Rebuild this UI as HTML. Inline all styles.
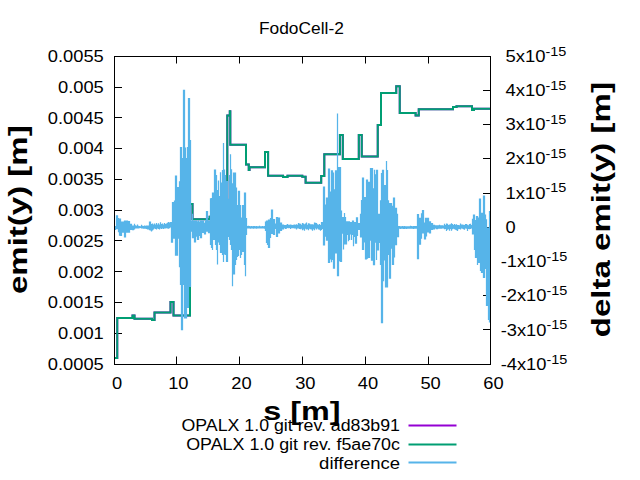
<!DOCTYPE html>
<html><head><meta charset="utf-8"><style>html,body{margin:0;padding:0;background:#fff;overflow:hidden}svg{display:block}text{font-family:"Liberation Sans",sans-serif;fill:#000}</style></head>
<body><svg width="640" height="480" viewBox="0 0 640 480">
<rect x="0" y="0" width="640" height="480" fill="#fff"/>
<text x="301.4" y="34" text-anchor="middle" font-size="16" textLength="84.8" lengthAdjust="spacingAndGlyphs">FodoCell-2</text>
<text x="47.82" y="62.00" font-size="16" textLength="55.98" lengthAdjust="spacingAndGlyphs">0.0055</text>
<text x="58.00" y="92.80" font-size="16" textLength="45.8" lengthAdjust="spacingAndGlyphs">0.005</text>
<line x1="114" y1="87.5" x2="122" y2="87.5" stroke="#000" stroke-width="1"/>
<text x="47.82" y="123.60" font-size="16" textLength="55.98" lengthAdjust="spacingAndGlyphs">0.0045</text>
<line x1="114" y1="117.5" x2="122" y2="117.5" stroke="#000" stroke-width="1"/>
<text x="58.00" y="154.40" font-size="16" textLength="45.8" lengthAdjust="spacingAndGlyphs">0.004</text>
<line x1="114" y1="148.5" x2="122" y2="148.5" stroke="#000" stroke-width="1"/>
<text x="47.82" y="185.20" font-size="16" textLength="55.98" lengthAdjust="spacingAndGlyphs">0.0035</text>
<line x1="114" y1="179.5" x2="122" y2="179.5" stroke="#000" stroke-width="1"/>
<text x="58.00" y="216.00" font-size="16" textLength="45.8" lengthAdjust="spacingAndGlyphs">0.003</text>
<line x1="114" y1="210.5" x2="122" y2="210.5" stroke="#000" stroke-width="1"/>
<text x="47.82" y="246.80" font-size="16" textLength="55.98" lengthAdjust="spacingAndGlyphs">0.0025</text>
<line x1="114" y1="240.5" x2="122" y2="240.5" stroke="#000" stroke-width="1"/>
<text x="58.00" y="277.60" font-size="16" textLength="45.8" lengthAdjust="spacingAndGlyphs">0.002</text>
<line x1="114" y1="271.5" x2="122" y2="271.5" stroke="#000" stroke-width="1"/>
<text x="47.82" y="308.40" font-size="16" textLength="55.98" lengthAdjust="spacingAndGlyphs">0.0015</text>
<line x1="114" y1="302.5" x2="122" y2="302.5" stroke="#000" stroke-width="1"/>
<text x="58.00" y="339.20" font-size="16" textLength="45.8" lengthAdjust="spacingAndGlyphs">0.001</text>
<line x1="114" y1="333.5" x2="122" y2="333.5" stroke="#000" stroke-width="1"/>
<text x="47.82" y="370.00" font-size="16" textLength="55.98" lengthAdjust="spacingAndGlyphs">0.0005</text>
<text x="505.5" y="61.80" font-size="16" textLength="40.01" lengthAdjust="spacingAndGlyphs">5x10</text>
<text x="545.51" y="55.50" font-size="12.8" textLength="20.9" lengthAdjust="spacingAndGlyphs">-15</text>
<text x="505.5" y="96.02" font-size="16" textLength="40.01" lengthAdjust="spacingAndGlyphs">4x10</text>
<text x="545.51" y="89.72" font-size="12.8" textLength="20.9" lengthAdjust="spacingAndGlyphs">-15</text>
<line x1="483" y1="90.5" x2="490" y2="90.5" stroke="#000" stroke-width="1"/>
<text x="505.5" y="130.24" font-size="16" textLength="40.01" lengthAdjust="spacingAndGlyphs">3x10</text>
<text x="545.51" y="123.94" font-size="12.8" textLength="20.9" lengthAdjust="spacingAndGlyphs">-15</text>
<line x1="483" y1="124.5" x2="490" y2="124.5" stroke="#000" stroke-width="1"/>
<text x="505.5" y="164.47" font-size="16" textLength="40.01" lengthAdjust="spacingAndGlyphs">2x10</text>
<text x="545.51" y="158.17" font-size="12.8" textLength="20.9" lengthAdjust="spacingAndGlyphs">-15</text>
<line x1="483" y1="158.5" x2="490" y2="158.5" stroke="#000" stroke-width="1"/>
<text x="505.5" y="198.69" font-size="16" textLength="40.01" lengthAdjust="spacingAndGlyphs">1x10</text>
<text x="545.51" y="192.39" font-size="12.8" textLength="20.9" lengthAdjust="spacingAndGlyphs">-15</text>
<line x1="483" y1="193.5" x2="490" y2="193.5" stroke="#000" stroke-width="1"/>
<text x="505.55" y="232.91" font-size="16" textLength="10.18" lengthAdjust="spacingAndGlyphs">0</text>
<line x1="483" y1="227.5" x2="490" y2="227.5" stroke="#000" stroke-width="1"/>
<text x="500.7" y="267.13" font-size="16" textLength="45.78" lengthAdjust="spacingAndGlyphs">-1x10</text>
<text x="546.48" y="260.83" font-size="12.8" textLength="20.9" lengthAdjust="spacingAndGlyphs">-15</text>
<line x1="483" y1="261.5" x2="490" y2="261.5" stroke="#000" stroke-width="1"/>
<text x="500.7" y="301.36" font-size="16" textLength="45.78" lengthAdjust="spacingAndGlyphs">-2x10</text>
<text x="546.48" y="295.06" font-size="12.8" textLength="20.9" lengthAdjust="spacingAndGlyphs">-15</text>
<line x1="483" y1="295.5" x2="490" y2="295.5" stroke="#000" stroke-width="1"/>
<text x="500.7" y="335.58" font-size="16" textLength="45.78" lengthAdjust="spacingAndGlyphs">-3x10</text>
<text x="546.48" y="329.28" font-size="12.8" textLength="20.9" lengthAdjust="spacingAndGlyphs">-15</text>
<line x1="483" y1="329.5" x2="490" y2="329.5" stroke="#000" stroke-width="1"/>
<text x="500.7" y="369.80" font-size="16" textLength="45.78" lengthAdjust="spacingAndGlyphs">-4x10</text>
<text x="546.48" y="363.50" font-size="12.8" textLength="20.9" lengthAdjust="spacingAndGlyphs">-15</text>
<text x="117.20" y="389" text-anchor="middle" font-size="16" textLength="10.18" lengthAdjust="spacingAndGlyphs">0</text>
<text x="178.37" y="389" text-anchor="middle" font-size="16" textLength="20.36" lengthAdjust="spacingAndGlyphs">10</text>
<line x1="176.5" y1="364" x2="176.5" y2="356.5" stroke="#000" stroke-width="1"/>
<line x1="176.5" y1="56" x2="176.5" y2="63.5" stroke="#000" stroke-width="1"/>
<text x="241.53" y="389" text-anchor="middle" font-size="16" textLength="20.36" lengthAdjust="spacingAndGlyphs">20</text>
<line x1="239.5" y1="364" x2="239.5" y2="356.5" stroke="#000" stroke-width="1"/>
<line x1="239.5" y1="56" x2="239.5" y2="63.5" stroke="#000" stroke-width="1"/>
<text x="305.35" y="389" text-anchor="middle" font-size="16" textLength="20.36" lengthAdjust="spacingAndGlyphs">30</text>
<line x1="302.5" y1="364" x2="302.5" y2="356.5" stroke="#000" stroke-width="1"/>
<line x1="302.5" y1="56" x2="302.5" y2="63.5" stroke="#000" stroke-width="1"/>
<text x="367.97" y="389" text-anchor="middle" font-size="16" textLength="20.36" lengthAdjust="spacingAndGlyphs">40</text>
<line x1="365.5" y1="364" x2="365.5" y2="356.5" stroke="#000" stroke-width="1"/>
<line x1="365.5" y1="56" x2="365.5" y2="63.5" stroke="#000" stroke-width="1"/>
<text x="430.63" y="389" text-anchor="middle" font-size="16" textLength="20.36" lengthAdjust="spacingAndGlyphs">50</text>
<line x1="428.5" y1="364" x2="428.5" y2="356.5" stroke="#000" stroke-width="1"/>
<line x1="428.5" y1="56" x2="428.5" y2="63.5" stroke="#000" stroke-width="1"/>
<text x="493.40" y="389" text-anchor="middle" font-size="16" textLength="20.36" lengthAdjust="spacingAndGlyphs">60</text>
<text transform="translate(26.5,293.5) rotate(-90)" x="-0.6" y="0" font-size="26.67" font-weight="bold" textLength="168.8" lengthAdjust="spacingAndGlyphs">emit(y) [m]</text>
<text transform="translate(609.5,336.7) rotate(-90)" x="-0.6" y="0" font-size="26.67" font-weight="bold" textLength="255.2" lengthAdjust="spacingAndGlyphs">delta emit(y) [m]</text>
<svg x="0" y="0" width="640" height="480" overflow="hidden"><clipPath id="cp"><rect x="114" y="56" width="377" height="309"/></clipPath><g clip-path="url(#cp)"><path d="M114,358 L117.25,358 L117.25,318 L132.5,318 L132.5,315.5 L134.5,315.5 L134.5,318.75 L152,318.75 L152,320 L154.5,320 L154.5,312.5 L170.5,312.5 L170.5,302 L173.5,302 L173.5,315.5 L190,315.5 L190,204 L192.5,204 L192.5,219.2 L209.6,219.2 L209.6,216.8 L227.3,216.8 L227.3,115.4 L229.8,115.4 L229.8,111.3 L230.3,111.3 L230.3,144.75 L246,144.75 L246,164.6 L248.75,164.6 L248.75,170 L249.5,170 L249.5,167.25 L265,167.25 L265,151.9 L268.1,151.9 L268.1,175.75 L283.1,175.75 L283.1,177 L287.5,177 L287.5,175.75 L302.3,175.75 L302.3,176.7 L305.6,176.7 L305.6,182.8 L321.2,182.8 L321.2,176 L324.3,176 L324.3,154.3 L339.9,154.3 L339.9,134.9 L342.8,134.9 L342.8,159.1 L358.8,159.1 L358.8,134.9 L361.75,134.9 L361.75,156.4 L377.75,156.4 L377.75,125 L381,125 L381,93.1 L396.25,93.1 L396.25,86.25 L399.75,86.25 L399.75,113.1 L415.6,113.1 L415.6,115.6 L418.75,115.6 L418.75,109.3 L453,109.3 L453,107 L456.5,107 L456.5,106.3 L472,106.3 L472,110 L474,110 L474,108.8 L490,108.8" stroke="#9400d3" stroke-width="2" fill="none"/><path d="M114,358 L117.25,358 L117.25,318 L132.5,318 L132.5,315.5 L134.5,315.5 L134.5,318.75 L152,318.75 L152,320 L154.5,320 L154.5,312.5 L170.5,312.5 L170.5,302 L173.5,302 L173.5,315.5 L190,315.5 L190,204 L192.5,204 L192.5,219.2 L209.6,219.2 L209.6,216.8 L227.3,216.8 L227.3,115.4 L229.8,115.4 L229.8,111.3 L230.3,111.3 L230.3,144.75 L246,144.75 L246,164.6 L248.75,164.6 L248.75,170 L249.5,170 L249.5,167.25 L265,167.25 L265,151.9 L268.1,151.9 L268.1,175.75 L283.1,175.75 L283.1,177 L287.5,177 L287.5,175.75 L302.3,175.75 L302.3,176.7 L305.6,176.7 L305.6,182.8 L321.2,182.8 L321.2,176 L324.3,176 L324.3,154.3 L339.9,154.3 L339.9,134.9 L342.8,134.9 L342.8,159.1 L358.8,159.1 L358.8,134.9 L361.75,134.9 L361.75,156.4 L377.75,156.4 L377.75,125 L381,125 L381,93.1 L396.25,93.1 L396.25,86.25 L399.75,86.25 L399.75,113.1 L415.6,113.1 L415.6,115.6 L418.75,115.6 L418.75,109.3 L453,109.3 L453,107 L456.5,107 L456.5,106.3 L472,106.3 L472,110 L474,110 L474,108.8 L490,108.8" stroke="#009e73" stroke-width="2" fill="none"/><path d="M114.5 225.90V229.90M115.5 225.90V229.90M116.5 215.30V229.20M117.5 215.30V229.20M118.5 218.10V232.20M119.5 218.60V235.70M120.5 218.60V236.00M121.5 221.50V236.00M122.5 221.50V232.80M123.5 221.50V232.80M124.5 220.40V237.60M125.5 220.40V237.60M126.5 220.40V232.80M127.5 220.40V232.80M128.5 221.10V232.80M129.5 221.10V232.80M130.5 223.70V229.90M131.5 223.70V229.90M132.5 225.50V230.30M133.5 225.50V230.30M134.5 223.70V229.50M135.5 225.20V228.40M136.5 225.80V228.40M137.5 224.50V228.60M138.5 225.80V228.40M139.5 226.00V228.20M140.5 226.20V228.10M141.5 224.80V228.40M142.5 225.80V228.40M143.5 226.00V228.80M144.5 225.50V228.80M145.5 225.80V228.80M146.5 225.50V229.00M147.5 225.50V229.50M148.5 225.50V229.50M149.5 221.40V230.30M150.5 221.40V230.60M151.5 224.00V231.40M152.5 223.50V230.40M153.5 224.50V229.50M154.5 223.50V228.50M155.5 224.50V229.00M156.5 223.00V229.50M157.5 224.50V228.50M158.5 223.20V229.00M159.5 224.50V229.50M160.5 222.30V228.40M161.5 224.00V229.00M162.5 223.50V228.50M163.5 224.50V229.00M164.5 223.00V228.40M165.5 224.00V228.60M166.5 223.50V228.20M167.5 222.80V228.40M168.5 221.90V228.80M169.5 222.50V228.20M170.5 221.90V227.50M171.5 221.90V242.80M172.5 201.90V242.80M173.5 201.90V238.75M174.5 200.60V238.75M175.5 175.60V255.70M176.5 175.60V255.70M177.5 186.90V255.70M178.5 186.90V238.75M179.5 181.25V267.30M180.5 146.90V285.00M181.5 146.90V330.20M182.5 158.00V330.20M183.5 89.80V285.00M184.5 89.80V318.50M185.5 147.50V318.50M186.5 158.00V318.50M187.5 147.00V308.00M188.5 97.90V308.00M189.5 97.90V287.00M190.5 140.00V287.00M191.5 220.50V231.70M192.5 213.70V238.30M193.5 220.50V238.30M194.5 220.50V242.50M195.5 220.50V242.50M196.5 220.50V236.70M197.5 221.32V240.00M198.5 220.50V240.00M199.5 221.38V235.97M200.5 220.50V238.30M201.5 220.50V238.30M202.5 220.50V232.90M203.5 220.50V232.90M204.5 222.66V234.60M205.5 220.50V234.60M206.5 211.00V231.70M207.5 211.00V231.70M208.5 220.50V233.30M209.5 220.50V233.30M210.5 198.30V245.00M211.5 198.00V248.00M212.5 192.50V250.00M213.5 192.50V240.00M214.5 169.40V240.00M215.5 169.40V245.00M216.5 175.00V250.00M217.5 190.00V264.40M218.5 180.60V242.50M219.5 196.00V245.00M220.5 172.25V253.00M221.5 182.53V253.00M222.5 170.00V255.00M223.5 143.00V261.90M224.5 169.40V254.40M225.5 175.00V255.00M226.5 181.00V261.90M227.5 181.00V261.90M228.5 198.75V236.90M229.5 175.00V240.00M230.5 154.20V245.00M231.5 169.20V250.00M232.5 183.30V286.25M233.5 172.50V274.40M234.5 172.50V274.40M235.5 172.50V265.00M236.5 187.50V260.00M237.5 205.00V256.90M238.5 190.80V256.00M239.5 190.80V250.00M240.5 205.00V258.00M241.5 217.50V255.00M242.5 205.00V251.90M243.5 205.00V251.90M244.5 192.50V265.00M245.5 192.50V276.25M246.5 218.00V235.00M247.5 226.10V228.59M248.5 225.83V228.62M249.5 226.11V228.61M250.5 226.16V228.74M251.5 226.11V228.50M252.5 226.19V228.52M253.5 226.11V228.66M254.5 226.11V228.58M255.5 226.14V228.51M256.5 225.93V228.82M257.5 226.14V228.57M258.5 226.15V228.61M259.5 225.84V228.56M260.5 226.18V228.56M261.5 226.20V228.56M262.5 226.10V228.56M263.5 226.19V228.55M264.5 226.09V228.75M265.5 221.50V231.00M266.5 220.50V243.00M267.5 220.50V245.00M268.5 219.50V248.00M269.5 219.50V248.00M270.5 218.00V238.00M271.5 209.50V234.00M272.5 209.50V234.00M273.5 219.00V235.00M274.5 219.00V235.00M275.5 223.50V229.00M276.5 217.00V237.00M277.5 217.00V237.00M278.5 217.50V233.50M279.5 217.50V233.50M280.5 222.50V231.00M281.5 222.50V231.00M282.5 224.50V229.50M283.5 224.50V229.50M284.5 224.95V228.21M285.5 224.94V228.99M286.5 224.84V228.77M287.5 223.90V228.02M288.5 224.77V228.28M289.5 224.73V228.03M290.5 224.50V228.94M291.5 224.82V228.29M292.5 224.90V228.13M293.5 224.75V228.32M294.5 224.51V228.52M295.5 224.69V228.60M296.5 224.34V229.46M297.5 224.63V228.61M298.5 223.07V228.51M299.5 223.61V228.89M300.5 223.77V229.19M301.5 224.86V228.65M302.5 222.89V230.25M303.5 223.45V229.57M304.5 224.37V230.69M305.5 223.50V228.80M306.5 222.42V229.55M307.5 224.74V229.21M308.5 223.16V230.17M309.5 223.40V228.68M310.5 224.32V229.36M311.5 224.36V229.43M312.5 224.27V230.81M313.5 224.53V229.27M314.5 222.47V230.36M315.5 222.72V228.53M316.5 222.91V229.50M317.5 224.34V228.52M318.5 224.84V229.57M319.5 224.11V229.75M320.5 224.90V230.70M321.5 221.90V230.00M322.5 221.90V229.00M323.5 186.50V245.40M324.5 186.50V245.40M325.5 204.40V236.70M326.5 197.40V240.75M327.5 197.40V240.75M328.5 168.50V262.90M329.5 168.50V262.90M330.5 191.40V259.40M331.5 170.30V262.30M332.5 170.30V260.00M333.5 172.50V268.75M334.5 189.30V268.75M335.5 170.30V253.60M336.5 170.30V253.60M337.5 113.50V276.30M338.5 167.00V276.30M339.5 167.00V261.20M340.5 167.00V261.90M341.5 210.60V261.90M342.5 216.90V233.75M343.5 216.90V249.40M344.5 213.10V244.40M345.5 216.90V244.40M346.5 221.25V244.40M347.5 221.25V235.00M348.5 221.25V241.25M349.5 221.25V240.00M350.5 221.90V234.40M351.5 221.90V240.00M352.5 220.60V235.00M353.5 220.60V246.25M354.5 221.90V236.90M355.5 221.90V243.75M356.5 217.25V243.75M357.5 217.25V236.00M358.5 223.00V230.00M359.5 223.00V230.00M360.5 213.75V237.50M361.5 200.00V237.50M362.5 177.50V250.00M363.5 177.50V250.00M364.5 196.90V242.50M365.5 196.90V259.40M366.5 179.40V259.40M367.5 179.40V258.75M368.5 181.70V258.00M369.5 181.70V258.00M370.5 168.00V240.70M371.5 168.00V260.70M372.5 168.00V260.70M373.5 188.30V265.30M374.5 169.70V265.30M375.5 174.30V242.70M376.5 169.70V260.00M377.5 169.70V250.60M378.5 213.70V250.60M379.5 213.70V243.00M380.5 200.30V265.00M381.5 173.00V323.20M382.5 169.70V323.20M383.5 169.70V281.25M384.5 185.00V260.60M385.5 185.00V287.50M386.5 161.00V287.50M387.5 170.00V287.50M388.5 200.30V255.00M389.5 203.00V278.75M390.5 203.00V278.75M391.5 203.00V248.75M392.5 205.70V265.00M393.5 197.40V265.00M394.5 197.40V257.50M395.5 207.70V245.30M396.5 207.70V245.30M397.5 213.70V237.30M398.5 226.00V237.30M399.5 225.96V228.81M400.5 226.16V228.99M401.5 226.18V228.70M402.5 226.02V228.74M403.5 226.13V229.02M404.5 225.94V228.88M405.5 226.15V228.75M406.5 226.18V229.00M407.5 226.14V228.77M408.5 226.17V228.80M409.5 226.16V228.81M410.5 225.80V228.72M411.5 225.88V228.85M412.5 226.15V228.72M413.5 226.12V228.88M414.5 226.09V228.71M415.5 226.11V228.78M416.5 226.06V228.83M417.5 214.10V259.30M418.5 214.10V259.30M419.5 217.80V244.70M420.5 217.80V244.70M421.5 213.20V238.80M422.5 209.90V233.60M423.5 209.90V233.60M424.5 222.50V239.40M425.5 217.80V239.40M426.5 217.80V236.50M427.5 217.80V232.40M428.5 217.80V232.40M429.5 221.30V233.60M430.5 221.30V233.60M431.5 223.10V230.00M432.5 223.10V230.00M433.5 224.80V229.50M434.5 224.80V229.50M435.5 225.30V228.58M436.5 225.18V229.34M437.5 225.21V229.15M438.5 225.28V228.70M439.5 224.82V228.67M440.5 225.29V228.67M441.5 225.29V228.66M442.5 225.26V228.57M443.5 225.39V228.58M444.5 223.70V229.19M445.5 224.97V228.92M446.5 223.43V230.88M447.5 223.76V229.78M448.5 224.90V229.23M449.5 224.58V230.72M450.5 224.36V228.99M451.5 223.35V230.70M452.5 224.00V229.22M453.5 224.97V228.68M454.5 223.90V229.16M455.5 224.63V229.66M456.5 224.21V230.17M457.5 224.90V231.06M458.5 224.93V229.37M459.5 225.18V228.91M460.5 223.49V229.59M461.5 224.57V228.61M462.5 224.53V228.80M463.5 224.81V229.26M464.5 225.08V229.68M465.5 223.94V228.56M466.5 224.12V228.87M467.5 224.75V230.96M468.5 225.15V229.05M469.5 223.97V229.22M470.5 223.80V229.12M471.5 224.92V228.58M472.5 218.70V234.50M473.5 214.40V234.50M474.5 214.40V250.00M475.5 220.00V258.00M476.5 216.00V258.00M477.5 216.00V265.00M478.5 217.60V263.00M479.5 198.50V263.00M480.5 198.50V271.00M481.5 212.75V273.00M482.5 212.75V273.00M483.5 195.40V278.00M484.5 195.40V278.00M485.5 214.40V269.00M486.5 219.25V306.00M487.5 227.40V306.00M488.5 227.40V320.00M489.5 211.10V322.50" stroke="#56b4e9" stroke-width="1.25" fill="none"/></g></svg>
<rect x="114.5" y="56.5" width="376" height="308" fill="none" stroke="#000" stroke-width="1"/>
<text x="400.00" y="430.5" text-anchor="end" font-size="16" textLength="218.5" lengthAdjust="spacingAndGlyphs">OPALX 1.0 git rev. ad83b91</text>
<text x="400.00" y="449.6" text-anchor="end" font-size="16" textLength="213.8" lengthAdjust="spacingAndGlyphs">OPALX 1.0 git rev. f5ae70c</text>
<text x="400.00" y="469.3" text-anchor="end" font-size="16" textLength="80.9" lengthAdjust="spacingAndGlyphs">difference</text>
<line x1="408.5" y1="425.5" x2="456.5" y2="425.5" stroke="#9400d3" stroke-width="2"/>
<line x1="408.5" y1="444.4" x2="456.5" y2="444.4" stroke="#009e73" stroke-width="2"/>
<line x1="408.5" y1="462.4" x2="456.5" y2="462.4" stroke="#56b4e9" stroke-width="2"/>
<text x="263.2" y="419.7" font-size="26.67" font-weight="bold" textLength="77.33" lengthAdjust="spacingAndGlyphs">s [m]</text>
</svg></body></html>
